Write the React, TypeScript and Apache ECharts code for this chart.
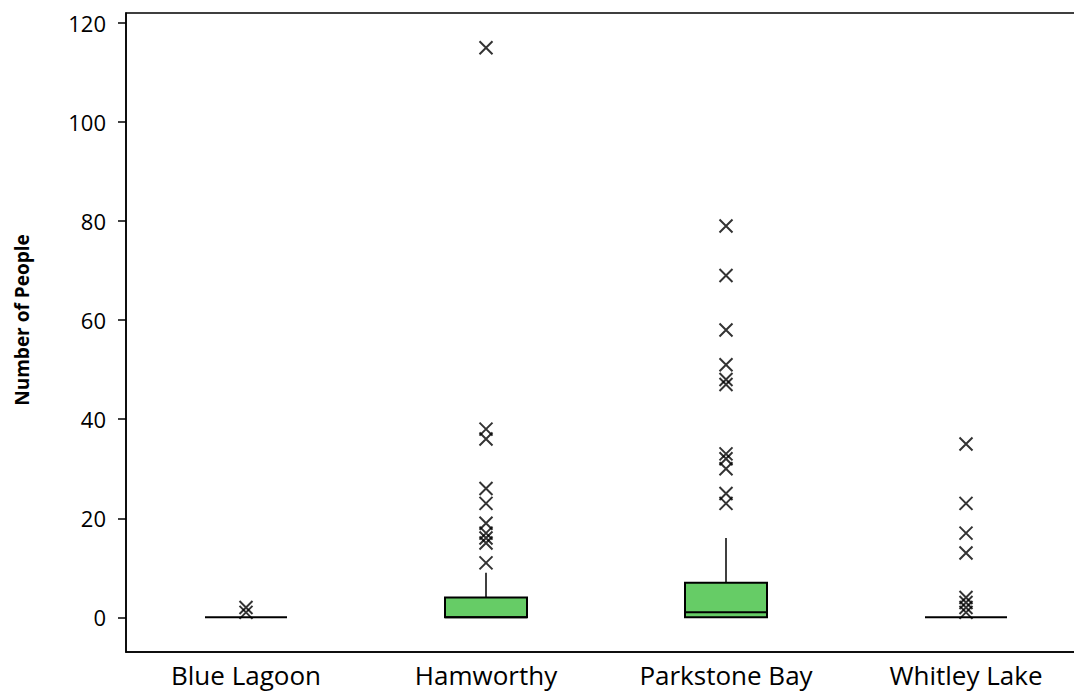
import React, { useEffect, useRef } from "react";
import * as echarts from "echarts";

const categories = ["Blue Lagoon", "Hamworthy", "Parkstone Bay", "Whitley Lake"];
// [min, q1, median, q3, max] of whiskers/box
const boxStats = [
  [0, 0, 0, 0, 0],
  [0, 0, 0, 4, 9],
  [0, 0, 1, 7, 16],
  [0, 0, 0, 0, 0],
];
const outliersBlueLagoon = [1, 2];
const outliersHamworthy = [115, 38, 36, 26, 23, 19, 17, 16, 15, 11];
const outliersParkstone = [79, 69, 58, 51, 48, 47, 33, 32, 30, 25, 23];
const outliersWhitley = [35, 23, 17, 13, 4, 3, 2, 1];
const yTicks = [0, 20, 40, 60, 80, 100, 120];

const FONT = "Open Sans";

export default function App() {
  const ref = useRef<HTMLDivElement>(null);
  useEffect(() => {
    document.body.style.margin = "0";
    if (!ref.current) return;
    const chart = echarts.init(ref.current, null, { renderer: "svg" });
    const outlierData: number[][] = [];
    [outliersBlueLagoon, outliersHamworthy, outliersParkstone, outliersWhitley].forEach((arr, i) =>
      arr.forEach((v) => outlierData.push([i, v]))
    );
    const boxData = boxStats.map((s, i) => [i, ...s]);
    const BOXW = 82;
    chart.setOption({
      animation: false,
      grid: {
        left: 126,
        top: 13,
        width: 960,
        height: 639,
        outerBoundsMode: "none",
        containLabel: false,
        show: true,
        borderColor: "#000",
        borderWidth: 1.5,
        backgroundColor: "transparent",
      },
      graphic: [
        {
          type: "text",
          x: 22,
          y: 320,
          rotation: Math.PI / 2,
          style: {
            text: "Number of People",
            fontFamily: FONT,
            fontSize: 19,
            fontWeight: "bold",
            fill: "#000",
            align: "center",
            verticalAlign: "middle",
          },
        },
      ],
      xAxis: {
        type: "category",
        data: categories,
        boundaryGap: true,
        axisLine: { onZero: false, lineStyle: { color: "#000", width: 1.5 } },
        axisTick: { alignWithLabel: true, length: 8, lineStyle: { color: "#000", width: 1.5 } },
        axisLabel: { color: "#000", fontFamily: FONT, fontSize: 26, margin: 10 },
        splitLine: { show: false },
      },
      yAxis: {
        type: "value",
        min: -7,
        max: 122,
        axisLine: { show: true, onZero: false, lineStyle: { color: "#000", width: 1.5 } },
        axisTick: { show: true, length: 8, customValues: yTicks, lineStyle: { color: "#000", width: 1.5 } },
        axisLabel: { color: "#000", fontFamily: FONT, fontSize: 22, margin: 20, customValues: yTicks },
        splitLine: { show: false },
      },
      series: [
        {
          type: "custom",
          data: boxData,
          renderItem: (params: any, api: any) => {
            const idx = api.value(0);
            const mn = api.value(1), q1 = api.value(2), med = api.value(3), q3 = api.value(4), mx = api.value(5);
            const pMin = api.coord([idx, mn]);
            const pQ1 = api.coord([idx, q1]);
            const pMed = api.coord([idx, med]);
            const pQ3 = api.coord([idx, q3]);
            const pMax = api.coord([idx, mx]);
            const cx = pQ1[0];
            const x0 = cx - BOXW / 2;
            const children: any[] = [];
            if (mx > q3) {
              children.push({ type: "line", shape: { x1: cx, y1: pQ3[1], x2: cx, y2: pMax[1] }, style: { stroke: "#000", lineWidth: 1.5 } });
            }
            if (mn < q1) {
              children.push({ type: "line", shape: { x1: cx, y1: pQ1[1], x2: cx, y2: pMin[1] }, style: { stroke: "#000", lineWidth: 1.5 } });
            }
            if (q3 > q1) {
              children.push({
                type: "rect",
                shape: { x: x0, y: pQ3[1], width: BOXW, height: pQ1[1] - pQ3[1] },
                style: { fill: "#66cc66", stroke: "#000", lineWidth: 2 },
              });
            }
            children.push({ type: "line", shape: { x1: x0, y1: pMed[1], x2: x0 + BOXW, y2: pMed[1] }, style: { stroke: "#000", lineWidth: 2 } });
            return { type: "group", children };
          },
          z: 2,
        },
        {
          type: "scatter",
          data: outlierData,
          symbol: "path://M0,0L10,10M10,0L0,10",
          symbolSize: 13,
          itemStyle: { color: "none", borderColor: "#000", borderWidth: 2 },
          z: 3,
        },
      ],
    });
    return () => chart.dispose();
  }, []);
  return <div ref={ref} style={{ width: 1074, height: 699 }} />;
}
